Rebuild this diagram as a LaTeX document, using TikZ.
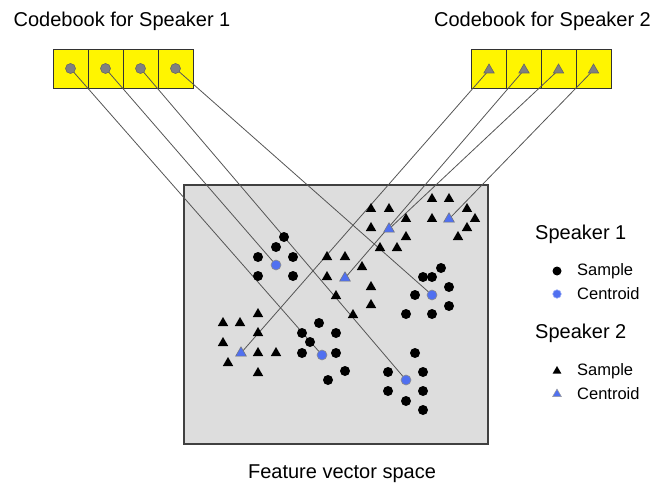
\documentclass[tikz,border=0pt]{standalone}
\usepackage{fontspec}
\setmainfont{Liberation Sans}
\usetikzlibrary{shapes.geometric}
\definecolor{cbyellow}{RGB}{255,245,0}
\definecolor{spacegray}{RGB}{221,221,221}
\definecolor{cblue}{RGB}{80,112,240}
\definecolor{linegray}{RGB}{85,85,85}
\definecolor{markgray}{RGB}{128,128,128}
\tikzset{
  cbbox/.style={draw=black!80, line width=0.9pt, fill=cbyellow, minimum width=35pt, minimum height=39pt, inner sep=0pt},
  cbcirc/.style={circle, fill=markgray, draw=black!60, line width=0.6pt, minimum size=10pt, inner sep=0pt},
  cbtri/.style={regular polygon, regular polygon sides=3, fill=markgray, draw=black!60, line width=0.6pt, minimum size=12pt, inner sep=0pt},
  samp1/.style={circle, fill=black, minimum size=10pt, inner sep=0pt},
  cent1/.style={circle, fill=cblue, draw=black!45, line width=0.6pt, minimum size=10pt, inner sep=0pt},
  samp2/.style={regular polygon, regular polygon sides=3, fill=black, minimum size=12pt, inner sep=0pt},
  cent2/.style={regular polygon, regular polygon sides=3, fill=cblue, draw=black!55, line width=0.5pt, minimum size=12.5pt, inner sep=0pt},
  link/.style={draw=linegray, line width=0.8pt},
  title/.style={font=\fontsize{20}{24}\selectfont, inner sep=0pt},
  legtxt/.style={font=\fontsize{16.5}{20}\selectfont, inner sep=0pt, anchor=west},
}
\begin{document}
\begin{tikzpicture}[x=1pt,y=-1pt]
\useasboundingbox (0,0) rectangle (671,486);
% titles
\node[title] (t1) at (122,21) {Codebook for Speaker 1};
\node[title] (t2) at (542.5,21) {Codebook for Speaker 2};
% feature space
\node[draw=black!75, line width=1.1pt, fill=spacegray, minimum width=304pt, minimum height=259pt, inner sep=0pt] (fs) at (336,314.5) {};
\node[title] (fst) at (342,474) {Feature vector space};
% codebook boxes
\foreach \x [count=\i] in {70.5,105.5,140.5,175.5} \node[cbbox] (b1\i) at (\x,68.5) {};
\foreach \x [count=\i] in {489,524,558.5,593.5} \node[cbbox] (b2\i) at (\x,68.5) {};
% centroid positions
\coordinate (cA) at (276,265);
\coordinate (cB) at (322,355);
\coordinate (cC) at (432,295);
\coordinate (cD) at (406,380);
\coordinate (cE) at (241,353);
\coordinate (cF) at (345,278);
\coordinate (cG) at (389,229);
\coordinate (cH) at (449,219);
% links
\draw[link] (b11.center) -- (cB);
\draw[link] (b12.center) -- (cA);
\draw[link] (b13.center) -- (cD);
\draw[link] (b14.center) -- (cC);
\draw[link] (489,70) -- (cE);
\draw[link] (524,70) -- (cF);
\draw[link] (558.5,70) -- (cG);
\draw[link] (593.5,70) -- (cH);
% codebook markers
\foreach \i in {1,...,4} \node[cbcirc] (m1\i) at (b1\i.center) {};
\foreach \x [count=\i] in {489,524,558.5,593.5} \node[cbtri] (m2\i) at (\x,70) {};
% speaker 1 samples
\foreach \x/\y [count=\i] in {284/237,276/247,258/257,293/257,258/276,293/276} \node[samp1] (sA\i) at (\x,\y) {};
\foreach \x/\y [count=\i] in {319/323,302/333,310/342,336/333,302/353,336/353,328/380,345/371} \node[samp1] (sB\i) at (\x,\y) {};
\foreach \x/\y [count=\i] in {441/268,423/277,432/277,449/287,415/295,449/306,406/314,432/314} \node[samp1] (sC\i) at (\x,\y) {};
\foreach \x/\y [count=\i] in {415/353,388/372,423/372,388/391,423/391,406/401,423/410} \node[samp1] (sD\i) at (\x,\y) {};
% speaker 2 samples
\foreach \x/\y [count=\i] in {258/314,223/323,240/323,258/333,223/343,258/353,276/353,228/363,258/373} \node[samp2] (sE\i) at (\x,\y) {};
\foreach \x/\y [count=\i] in {327/257,345/257,362/267,327/277,336/296,371/287,371/305,353/315} \node[samp2] (sF\i) at (\x,\y) {};
\foreach \x/\y [count=\i] in {371/209,389/209,371/228,406/219,406/237,380/248,397/248} \node[samp2] (sG\i) at (\x,\y) {};
\foreach \x/\y [count=\i] in {432/199,449/199,467/209,432/219,475/219,467/228,458/237} \node[samp2] (sH\i) at (\x,\y) {};
% centroids
\foreach \c in {A,B,C,D} \node[cent1] (k\c) at (c\c) {};
\foreach \c in {E,F,G,H} \node[cent2] (k\c) at (c\c) {};
% legend
\node[title, anchor=west] (l1) at (535,234) {Speaker 1};
\node[samp1, minimum size=9pt] (l1s) at (557,271) {};
\node[legtxt] (l1st) at (577,271) {Sample};
\node[cent1, minimum size=8.5pt, draw=cblue!60] (l1c) at (557,294) {};
\node[legtxt] (l1ct) at (577,294) {Centroid};
\node[title, anchor=west] (l2) at (535,333) {Speaker 2};
\node[samp2, minimum size=10pt] (l2s) at (557,371) {};
\node[legtxt] (l2st) at (577,371) {Sample};
\node[cent2, minimum size=10pt, draw=black!40] (l2c) at (557,394) {};
\node[legtxt] (l2ct) at (577,394) {Centroid};
\end{tikzpicture}
\end{document}
